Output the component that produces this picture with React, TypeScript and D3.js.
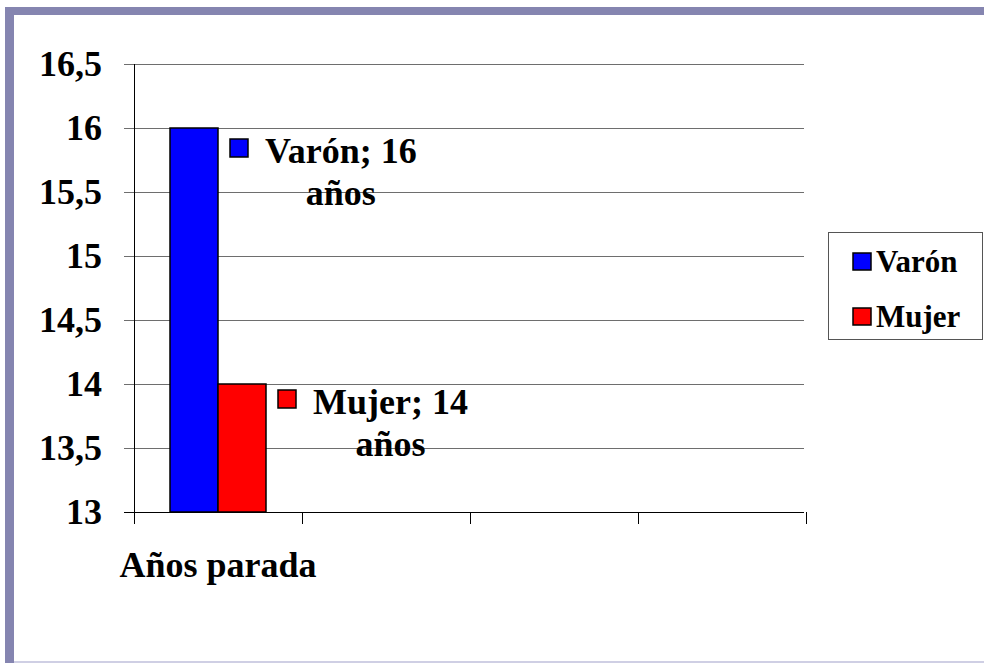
import { useEffect, useRef } from 'react';
import * as d3 from 'd3';

const categories = ['Años parada', '', '', ''];
const seriesNames = ['Varón', 'Mujer'];
const varonValues = [16];
const mujerValues = [14];
const seriesColors = ['#0000ff', '#ff0000'];
const yTicks = [13, 13.5, 14, 14.5, 15, 15.5, 16, 16.5];
const unit = 'años';

const W = 984;
const H = 663;
const FONT = "'Liberation Serif', Tinos, 'Times New Roman', 'DejaVu Serif', serif";

export default function App() {
  const svgRef = useRef<SVGSVGElement>(null);

  useEffect(() => {
    if (!svgRef.current) return;
    const svg = d3.select(svgRef.current);
    svg.selectAll('*').remove();

    // slide frame
    svg.append('rect').attr('x', 0).attr('y', 0).attr('width', W).attr('height', H).attr('fill', '#ffffff');
    svg.append('rect').attr('x', 5).attr('y', 7).attr('width', 9).attr('height', H - 7).attr('fill', '#8585b0');
    svg.append('rect').attr('x', 5).attr('y', 7).attr('width', W - 5).attr('height', 8).attr('fill', '#8585b0');
    svg.append('rect').attr('x', 14).attr('y', 661).attr('width', W - 14).attr('height', 2).attr('fill', '#cfcfe4');

    const plot = { left: 134, right: 806, top: 64, bottom: 512 };

    const locale = d3.formatLocale({ decimal: ',', thousands: '.', grouping: [3], currency: ['', '€'] });
    const fmt = locale.format('~g');

    const y = d3.scaleLinear().domain([13, 16.5]).range([plot.bottom, plot.top]);
    const x = d3.scaleBand<number>()
      .domain(d3.range(categories.length))
      .range([plot.left, plot.right])
      .padding(0);
    const xs = d3.scaleBand<string>()
      .domain(seriesNames)
      .range([0, x.bandwidth()])
      .paddingInner(0)
      .paddingOuter(0.75);

    const root = svg.append('g').style('font-family', FONT).style('font-weight', 'bold');

    // gridlines
    root.append('g')
      .selectAll('line')
      .data(yTicks)
      .enter()
      .append('line')
      .attr('x1', plot.left - 10)
      .attr('x2', plot.right - 2)
      .attr('y1', d => Math.round(y(d)) + 0.5)
      .attr('y2', d => Math.round(y(d)) + 0.5)
      .attr('stroke', d => (d === 13 ? '#000000' : '#6e6e6e'))
      .attr('stroke-width', 1);

    // y tick labels
    root.append('g')
      .selectAll('text')
      .data(yTicks)
      .enter()
      .append('text')
      .attr('x', 102)
      .attr('y', d => y(d))
      .attr('dy', '0.34em')
      .attr('text-anchor', 'end')
      .attr('font-size', 36)
      .attr('fill', '#000')
      .text(d => fmt(d));

    // y axis line
    root.append('line')
      .attr('x1', plot.left + 0.5).attr('x2', plot.left + 0.5)
      .attr('y1', plot.top).attr('y2', plot.bottom)
      .attr('stroke', '#000').attr('stroke-width', 1);

    // x axis ticks
    const xTickPos = d3.range(categories.length + 1).map(i => plot.left + i * x.step());
    root.append('g')
      .selectAll('line')
      .data(xTickPos)
      .enter()
      .append('line')
      .attr('x1', d => Math.round(d) + 0.5)
      .attr('x2', d => Math.round(d) + 0.5)
      .attr('y1', plot.bottom)
      .attr('y2', plot.bottom + 12)
      .attr('stroke', '#000');

    // category labels
    root.append('g')
      .selectAll('text')
      .data(categories)
      .enter()
      .append('text')
      .attr('x', (_, i) => (x(i) as number) + x.bandwidth() / 2)
      .attr('y', 577)
      .attr('text-anchor', 'middle')
      .attr('font-size', 36)
      .text(d => d);

    // bars
    const seriesValues = [varonValues, mujerValues];
    const bars: { s: number; i: number; v: number }[] = [];
    seriesValues.forEach((vals, s) => vals.forEach((v, i) => bars.push({ s, i, v })));

    const barX = (d: { s: number; i: number }) => (x(d.i) as number) + (xs(seriesNames[d.s]) as number);

    root.append('g')
      .selectAll('rect')
      .data(bars)
      .enter()
      .append('rect')
      .attr('x', d => barX(d))
      .attr('y', d => y(d.v))
      .attr('width', xs.bandwidth())
      .attr('height', d => y(13) - y(d.v))
      .attr('fill', d => seriesColors[d.s])
      .attr('stroke', '#000')
      .attr('stroke-width', 1.5);

    // data labels
    const labels = root.append('g');
    bars.forEach(d => {
      const textX = barX(d) + xs.bandwidth() + 47;
      const base = y(d.v) + (d.s === 0 ? 35 : 30);
      const line1 = labels.append('text')
        .attr('x', textX)
        .attr('y', base)
        .attr('font-size', 36)
        .text(`${seriesNames[d.s]}; ${fmt(d.v)}`);
      const w = (line1.node() as SVGTextElement).getComputedTextLength();
      labels.append('text')
        .attr('x', textX + w / 2)
        .attr('y', base + 42)
        .attr('text-anchor', 'middle')
        .attr('font-size', 36)
        .text(unit);
      labels.append('rect')
        .attr('x', textX - 35)
        .attr('y', base - 24)
        .attr('width', 18)
        .attr('height', 18)
        .attr('fill', seriesColors[d.s])
        .attr('stroke', '#000')
        .attr('stroke-width', 1.5);
    });

    // legend
    const legend = root.append('g');
    legend.append('rect')
      .attr('x', 828.5).attr('y', 232.5)
      .attr('width', 154).attr('height', 107)
      .attr('fill', '#fff')
      .attr('stroke', '#555')
      .attr('stroke-width', 1);
    seriesNames.forEach((name, i) => {
      const cy = 261 + i * 55;
      legend.append('rect')
        .attr('x', 853).attr('y', cy - 8)
        .attr('width', 18).attr('height', 17)
        .attr('fill', seriesColors[i])
        .attr('stroke', '#000')
        .attr('stroke-width', 1.5);
      legend.append('text')
        .attr('x', 876)
        .attr('y', cy + 11)
        .attr('font-size', 31)
        .text(name);
    });
  }, []);

  return (
    <svg
      ref={svgRef}
      width={W}
      height={H}
      style={{ position: 'absolute', left: 0, top: 0, display: 'block' }}
    />
  );
}
